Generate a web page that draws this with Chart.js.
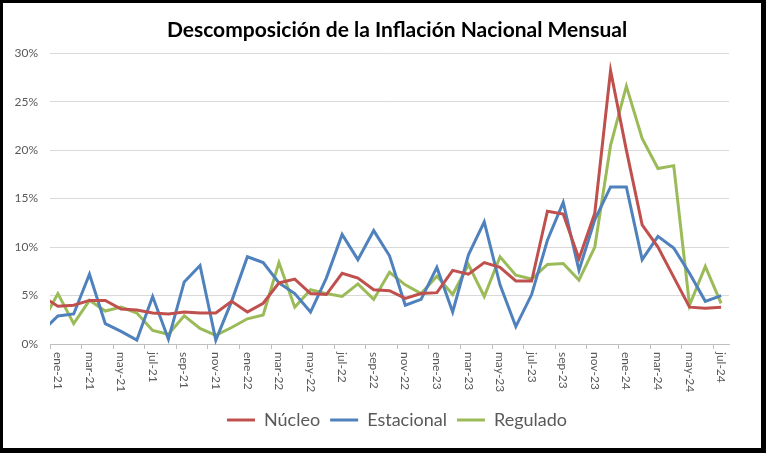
<!DOCTYPE html>
<html>
<head>
<meta charset="utf-8">
<script src="https://cdn.jsdelivr.net/npm/chart.js@4.4.0/dist/chart.umd.min.js"></script>
<style>
  html, body { margin: 0; padding: 0; background: #fff; }
  #marco { width: 766px; height: 453px; position: relative; }
</style>
</head>
<body>
<div id="marco"><canvas id="grafico"></canvas></div>
<script>
// Meses (dic-20 queda fuera del eje, solo se ve el inicio de la línea)
const meses = [
    'dic-20',
    'ene-21', 'feb-21', 'mar-21', 'abr-21', 'may-21', 'jun-21', 'jul-21', 'ago-21', 'sep-21', 'oct-21', 'nov-21', 'dic-21',
    'ene-22', 'feb-22', 'mar-22', 'abr-22', 'may-22', 'jun-22', 'jul-22', 'ago-22', 'sep-22', 'oct-22', 'nov-22', 'dic-22',
    'ene-23', 'feb-23', 'mar-23', 'abr-23', 'may-23', 'jun-23', 'jul-23', 'ago-23', 'sep-23', 'oct-23', 'nov-23', 'dic-23',
    'ene-24', 'feb-24', 'mar-24', 'abr-24', 'may-24', 'jun-24', 'jul-24'
];

// Inflación mensual (%)
const nucleo = [4.9,
    3.9, 4.0, 4.5, 4.5, 3.6, 3.5, 3.2, 3.1, 3.3, 3.2, 3.2, 4.4,
    3.3, 4.2, 6.3, 6.7, 5.2, 5.1, 7.3, 6.8, 5.6, 5.5, 4.7, 5.2,
    5.3, 7.6, 7.2, 8.4, 7.9, 6.5, 6.5, 13.7, 13.4, 8.8, 13.5, 28.2,
    20.0, 12.3, 10.0, 6.9, 3.8, 3.7, 3.8];
const estacional = [1.3,
    2.9, 3.1, 7.2, 2.1, 1.3, 0.4, 4.9, 0.5, 6.4, 8.1, 0.4, 4.4,
    9.0, 8.4, 6.3, 5.2, 3.3, 6.8, 11.3, 8.7, 11.7, 9.1, 4.0, 4.6,
    7.9, 3.3, 9.2, 12.6, 6.1, 1.8, 5.1, 10.7, 14.6, 7.6, 12.8, 16.2,
    16.2, 8.7, 11.1, 9.9, 7.3, 4.4, 5.0];
const regulado = [2.2,
    5.2, 2.1, 4.5, 3.4, 3.8, 3.2, 1.4, 1.0, 2.9, 1.6, 0.9, 1.7,
    2.6, 3.0, 8.4, 3.8, 5.6, 5.2, 4.9, 6.2, 4.6, 7.4, 6.1, 5.2,
    7.0, 5.1, 8.2, 4.9, 9.0, 7.1, 6.7, 8.2, 8.3, 6.6, 10.0, 20.5,
    26.6, 21.2, 18.1, 18.4, 4.0, 8.0, 4.2];

const ticksY = [0, 5, 10, 15, 20, 25, 30];

const gris = '#595959';
const fuente = 'Lato, "Open Sans", sans-serif';

// Etiquetas cada dos meses a partir de ene-21
const indicesEtiqueta = meses.map((m, i) => i).filter(i => i % 2 === 1);

function puntos(serie) {
    return serie.map((v, i) => ({ x: i, y: v }));
}

// Marco negro alrededor de la imagen
const marco = {
    id: 'marco',
    beforeDraw(chart) {
        const { ctx, width, height } = chart;
        ctx.save();
        ctx.fillStyle = '#000';
        ctx.fillRect(0, 0, width, height);
        ctx.fillStyle = '#fff';
        ctx.fillRect(3, 3, width - 8, height - 8);
        ctx.restore();
    }
};

// Etiquetas del eje X giradas 90° (se leen de arriba a abajo)
const etiquetasX = {
    id: 'etiquetasX',
    afterDraw(chart) {
        const { ctx } = chart;
        const escala = chart.scales.x;
        ctx.save();
        ctx.font = '12px ' + fuente;
        ctx.fillStyle = gris;
        ctx.textAlign = 'left';
        ctx.textBaseline = 'middle';
        indicesEtiqueta.forEach(i => {
            const x = escala.getPixelForValue(i);
            ctx.save();
            ctx.translate(x, escala.top + 8);
            ctx.rotate(Math.PI / 2);
            ctx.fillText(meses[i], 0, 0);
            ctx.restore();
        });
        ctx.restore();
    }
};

function serie(nombre, datos, color) {
    return {
        label: nombre,
        data: puntos(datos),
        borderColor: color,
        backgroundColor: color,
        borderWidth: 3,
        pointRadius: 0,
        tension: 0,
        clip: { left: 0, right: 0, top: 5, bottom: 5 }
    };
}

new Chart(document.getElementById('grafico'), {
    type: 'line',
    data: {
        datasets: [
            serie('Núcleo', nucleo, '#C0504D'),
            serie('Estacional', estacional, '#4F81BD'),
            serie('Regulado', regulado, '#9BBB59')
        ]
    },
    options: {
        responsive: true,
        maintainAspectRatio: false,
        animation: false,
        // el título y la leyenda quedan algo a la derecha, como en el original
        layout: { padding: { left: 10, right: -18, top: 0, bottom: 14 } },
        plugins: {
            title: {
                display: true,
                text: 'Descomposición de la Inflación Nacional Mensual',
                color: '#000',
                font: { family: fuente, size: 21, weight: 'bold' },
                padding: { top: 18, bottom: 10 }
            },
            legend: {
                position: 'bottom',
                labels: {
                    usePointStyle: true,
                    pointStyle: 'line',
                    pointStyleWidth: 28,
                    padding: 10,
                    color: gris,
                    font: { family: fuente, size: 18 }
                }
            },
            tooltip: { enabled: false }
        },
        scales: {
            x: {
                type: 'linear',
                bounds: 'data',
                min: 0.5,
                max: meses.length - 0.5,
                afterBuildTicks: s => {
                    s.ticks = indicesEtiqueta.map(i => ({ value: i - 0.5 }));
                },
                ticks: { display: false },
                grid: { drawOnChartArea: false, drawTicks: true, tickLength: 5, color: '#bfbfbf' },
                border: { display: true, color: '#bfbfbf' },
                afterFit: s => { s.height = 57; }
            },
            y: {
                min: 0,
                max: 30,
                afterBuildTicks: s => { s.ticks = ticksY.map(v => ({ value: v })); },
                ticks: {
                    padding: 12,
                    color: gris,
                    font: { family: fuente, size: 12 },
                    callback: v => v + '%'
                },
                grid: { color: '#d9d9d9', drawTicks: false },
                border: { display: false },
                afterFit: s => { s.width = 40; }
            },
            y2: {
                position: 'right',
                grid: { display: false },
                ticks: { display: false },
                border: { display: false },
                afterFit: s => { s.width = 55; }
            }
        }
    },
    plugins: [marco, etiquetasX]
});
</script>
</body>
</html>
